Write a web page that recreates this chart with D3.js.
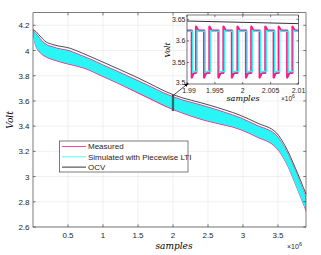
<!DOCTYPE html>
<html>
<head>
<meta charset="utf-8">
<script src="https://cdn.jsdelivr.net/npm/d3@7"></script>
<style>
  body { margin: 0; background: #fff; }
  svg { display: block; }
  text { font-family: "Liberation Sans", Arial, sans-serif; fill: #262626; }
  .lbl { font-family: "DejaVu Serif", "Liberation Serif", serif; font-style: italic; fill: #000; }
</style>
</head>
<body>
<script>
// main plot data (samples in units of 1e6)
var samples   = [0, 0.02, 0.1, 0.17, 0.3, 0.53, 0.71, 1.0, 1.5, 2.0, 2.53, 2.96, 3.2, 3.48, 3.6, 3.75, 3.9];
var measHi    = [4.16, 4.15, 4.10, 4.06, 4.03, 4.00, 3.96, 3.89, 3.765, 3.638, 3.55, 3.47, 3.41, 3.33, 3.23, 3.05, 2.84];
var measLo    = [4.15, 4.06, 3.98, 3.95, 3.92, 3.885, 3.86, 3.79, 3.66, 3.528, 3.43, 3.37, 3.31, 3.22, 3.12, 2.93, 2.72];
var simHi     = [4.155, 4.144, 4.094, 4.054, 4.024, 3.994, 3.954, 3.884, 3.759, 3.632, 3.544, 3.464, 3.404, 3.324, 3.224, 3.044, 2.834];
var simLo     = [4.15, 4.066, 3.986, 3.956, 3.926, 3.891, 3.866, 3.796, 3.666, 3.534, 3.436, 3.376, 3.316, 3.226, 3.126, 2.936, 2.728];
var ocv       = [4.165, 4.16, 4.115, 4.075, 4.045, 4.018, 3.978, 3.908, 3.783, 3.65, 3.565, 3.486, 3.426, 3.345, 3.245, 3.065, 2.86];

var xTicks = [0.5, 1, 1.5, 2, 2.5, 3, 3.5];
var yTicks = [2.6, 2.8, 3, 3.2, 3.4, 3.6, 3.8, 4, 4.2];

// inset data: pulse edges (samples, 1e6)
var riseT = [1.99162, 1.99402, 1.99654, 1.99906, 2.00153, 2.00405, 2.00645, 2.00892];
var fallT = [1.99085, 1.99306, 1.99564, 1.99805, 2.00058, 2.00303, 2.00555, 2.00797];
var measLevels = [3.624, 3.526];   // high, low
var measPeaks  = [3.633, 3.515];   // overshoot after rise, undershoot after fall
var simLevels  = [3.622, 3.529];
var ocvInset   = [[1.99, 3.646], [2.01, 3.640]];
var insetXTicks = [1.99, 1.995, 2, 2.005, 2.01];
var insetYTicks = [3.5, 3.55, 3.6, 3.65];

var legendItems = ["Measured", "Simulated with Piecewise LTI", "OCV"];
var colMeas = "#ff1a85", colSim = "#2af5f5", colOcv = "#000";

var W = 321, H = 255;
var svg = d3.select("body").append("svg").attr("width", W).attr("height", H);

var x = d3.scaleLinear().domain([0, 3.9]).range([33, 306]);
var y = d3.scaleLinear().domain([2.6, 4.3]).range([227, 12.7]);

// grid
var grid = svg.append("g").attr("stroke", "#e6e6e6").attr("stroke-width", 0.6);
grid.selectAll(".gx").data(xTicks).enter().append("line")
  .attr("x1", function(d) { return x(d); }).attr("x2", function(d) { return x(d); })
  .attr("y1", y.range()[0]).attr("y2", y.range()[1]);
grid.selectAll(".gy").data(yTicks).enter().append("line")
  .attr("y1", function(d) { return y(d); }).attr("y2", function(d) { return y(d); })
  .attr("x1", x.range()[0]).attr("x2", x.range()[1]);

var idx = d3.range(samples.length);
var bandMeas = d3.area().curve(d3.curveMonotoneX)
  .x(function(i) { return x(samples[i]); })
  .y0(function(i) { return y(measLo[i]); })
  .y1(function(i) { return y(measHi[i]); });
var bandSim = d3.area().curve(d3.curveMonotoneX)
  .x(function(i) { return x(samples[i]); })
  .y0(function(i) { return y(simLo[i]); })
  .y1(function(i) { return y(simHi[i]); });
function lineOf(arr) {
  return d3.line().curve(d3.curveMonotoneX)
    .x(function(i) { return x(samples[i]); })
    .y(function(i) { return y(arr[i]); });
}

svg.append("path").attr("d", bandMeas(idx)).attr("fill", colMeas);
svg.append("path").attr("d", bandSim(idx)).attr("fill", colSim);
svg.append("path").attr("d", lineOf(ocv)(idx)).attr("fill", "none").attr("stroke", colOcv).attr("stroke-width", 0.7);

// zoom marker at 2e6
svg.append("rect")
  .attr("x", x(1.99)).attr("width", x(2.01) - x(1.99))
  .attr("y", y(3.645)).attr("height", y(3.525) - y(3.645))
  .attr("fill", "none").attr("stroke", "#333").attr("stroke-width", 0.8);

// axes box with ticks
function boxAxes(g, sx, sy, xt, yt, tl) {
  var x0 = sx.range()[0], x1 = sx.range()[1], y0 = sy.range()[0], y1 = sy.range()[1];
  g.append("rect").attr("x", x0).attr("y", y1).attr("width", x1 - x0).attr("height", y0 - y1)
    .attr("fill", "none").attr("stroke", "#262626").attr("stroke-width", 0.6);
  var t = g.append("g").attr("stroke", "#262626").attr("stroke-width", 0.6);
  xt.forEach(function(d) {
    t.append("line").attr("x1", sx(d)).attr("x2", sx(d)).attr("y1", y0).attr("y2", y0 - tl);
    t.append("line").attr("x1", sx(d)).attr("x2", sx(d)).attr("y1", y1).attr("y2", y1 + tl);
  });
  yt.forEach(function(d) {
    t.append("line").attr("y1", sy(d)).attr("y2", sy(d)).attr("x1", x0).attr("x2", x0 + tl);
    t.append("line").attr("y1", sy(d)).attr("y2", sy(d)).attr("x1", x1).attr("x2", x1 - tl);
  });
}
boxAxes(svg.append("g"), x, y, xTicks, yTicks, 2.7);

svg.selectAll(".xl").data(xTicks).enter().append("text")
  .attr("x", function(d) { return x(d); }).attr("y", 238)
  .attr("text-anchor", "middle").attr("font-size", 8).text(function(d) { return d; });
svg.selectAll(".yl").data(yTicks).enter().append("text")
  .attr("x", 29.5).attr("y", function(d) { return y(d) + 3; })
  .attr("text-anchor", "end").attr("font-size", 8).text(function(d) { return d; });

svg.append("text").attr("class", "lbl").attr("x", 174).attr("y", 249)
  .attr("text-anchor", "middle").attr("font-size", 9).text("samples");
svg.append("text").attr("class", "lbl").attr("transform", "translate(13,120) rotate(-90)")
  .attr("text-anchor", "middle").attr("font-size", 9).text("Volt");
var e6 = svg.append("text").attr("x", 287).attr("y", 249).attr("font-size", 7);
e6.append("tspan").text("\u00d710");
e6.append("tspan").attr("dy", -3.5).attr("font-size", 5.5).text("6");

// legend
var lg = svg.append("g");
lg.append("rect").attr("x", 59.5).attr("y", 141).attr("width", 128.5).attr("height", 31)
  .attr("fill", "#fff").attr("stroke", "#262626").attr("stroke-width", 0.6);
[colMeas, colSim, colOcv].forEach(function(c, i) {
  var yy = 146.5 + i * 10.3;
  lg.append("line").attr("x1", 62).attr("x2", 86).attr("y1", yy).attr("y2", yy)
    .attr("stroke", c).attr("stroke-width", 0.8);
  lg.append("text").attr("x", 88).attr("y", yy + 2.8).attr("font-size", 8)
    .attr("fill", "#000").text(legendItems[i]);
});

// inset
var ix = d3.scaleLinear().domain([1.99, 2.01]).range([187, 298.5]);
var iy = d3.scaleLinear().domain([3.5, 3.66]).range([84, 15]);
var ins = svg.append("g");
ins.append("rect").attr("x", 187).attr("y", 15).attr("width", 111.5).attr("height", 69).attr("fill", "#fff");
var ig = ins.append("g").attr("stroke", "#e6e6e6").attr("stroke-width", 0.6);
insetXTicks.forEach(function(d) {
  ig.append("line").attr("x1", ix(d)).attr("x2", ix(d)).attr("y1", 84).attr("y2", 15);
});
insetYTicks.forEach(function(d) {
  ig.append("line").attr("y1", iy(d)).attr("y2", iy(d)).attr("x1", 187).attr("x2", 298.5);
});

function pulsePath(levels, peaks, shift) {
  var ev = [];
  riseT.forEach(function(t) { ev.push({ t: t + shift, up: true }); });
  fallT.forEach(function(t) { ev.push({ t: t + shift, up: false }); });
  ev.sort(function(a, b) { return a.t - b.t; });
  var dt = 0.0004;
  var pts = [[1.99, levels[0]]];
  ev.forEach(function(e) {
    var from = e.up ? levels[1] : levels[0];
    var lvl = e.up ? levels[0] : levels[1];
    var pk = e.up ? peaks[0] : peaks[1];
    pts.push([e.t, from]);
    pts.push([e.t, pk]);
    pts.push([e.t + dt, lvl]);
  });
  pts.push([2.01, pts[pts.length - 1][1]]);
  return d3.line().x(function(p) { return ix(Math.min(p[0], 2.01)); }).y(function(p) { return iy(p[1]); })(pts);
}
ins.append("path").attr("d", pulsePath(measLevels, measPeaks, 0))
  .attr("fill", "none").attr("stroke", colMeas).attr("stroke-width", 2.2).attr("stroke-linejoin", "round");
ins.append("path").attr("d", pulsePath(simLevels, [simLevels[0] + 0.002, simLevels[1] - 0.002], 0.00018))
  .attr("fill", "none").attr("stroke", colSim).attr("stroke-width", 1.4);
ins.append("path").attr("d", d3.line().x(function(p) { return ix(p[0]); }).y(function(p) { return iy(p[1]); })(ocvInset))
  .attr("fill", "none").attr("stroke", colOcv).attr("stroke-width", 0.8);

boxAxes(ins, ix, iy, insetXTicks, insetYTicks, 2);
ins.selectAll(".ixl").data(insetXTicks).enter().append("text")
  .attr("x", function(d) { return ix(d) + (d === 1.99 ? 2 : 0); }).attr("y", 92.5)
  .attr("text-anchor", "middle").attr("font-size", 7).text(function(d) { return d; });
ins.selectAll(".iyl").data(insetYTicks).enter().append("text")
  .attr("x", 185.5).attr("y", function(d) { return iy(d) + 2.5 - (d === 3.5 ? 1.5 : 0); })
  .attr("text-anchor", "end").attr("font-size", 7).text(function(d) { return d; });
ins.append("text").attr("class", "lbl").attr("x", 243).attr("y", 101)
  .attr("text-anchor", "middle").attr("font-size", 8).text("samples");
ins.append("text").attr("class", "lbl").attr("transform", "translate(170,50) rotate(-90)")
  .attr("text-anchor", "middle").attr("font-size", 8).text("Volt");
var ie6 = ins.append("text").attr("x", 281).attr("y", 101).attr("font-size", 6.5);
ie6.append("tspan").text("\u00d710");
ie6.append("tspan").attr("dy", -3).attr("font-size", 5).text("6");

// arrow from marker to inset
svg.append("defs").append("marker").attr("id", "ah").attr("viewBox", "0 0 10 10")
  .attr("refX", 9).attr("refY", 5).attr("markerWidth", 6).attr("markerHeight", 6)
  .attr("orient", "auto").append("path").attr("d", "M0,1L10,5L0,9Z").attr("fill", "#000");
svg.append("line").attr("x1", x(2.0) + 1).attr("y1", y(3.645) - 0.5)
  .attr("x2", ix(1.99) + 1).attr("y2", iy(3.5) - 0.5)
  .attr("stroke", "#000").attr("stroke-width", 0.7).attr("marker-end", "url(#ah)");
</script>
</body>
</html>
